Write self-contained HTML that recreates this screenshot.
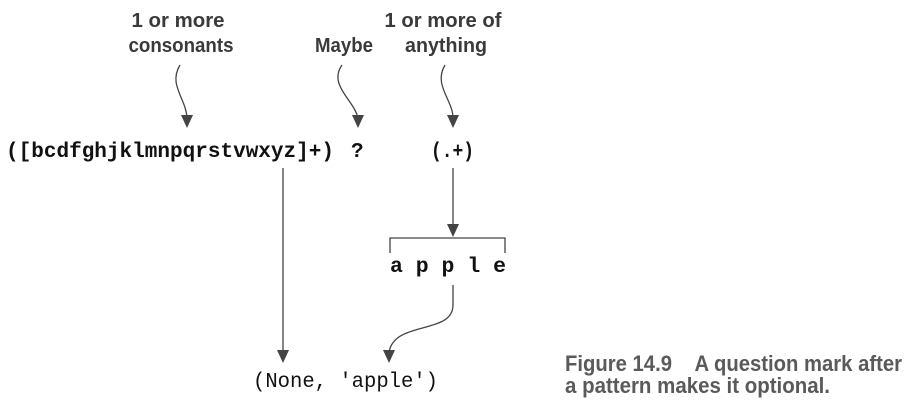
<!DOCTYPE html>
<html><head><meta charset="utf-8"><style>
html,body{margin:0;padding:0;background:#fff;}
body{width:917px;height:400px;position:relative;overflow:hidden;}
svg{position:absolute;left:0;top:0;}
.lbl{font-family:"Liberation Sans Narrow","Liberation Sans",sans-serif;font-weight:bold;font-size:20px;fill:#3a3a3a;}
.mono{font-family:"Liberation Mono",monospace;font-size:21px;fill:#111;}
.cap{font-family:"Liberation Sans Narrow","Liberation Sans",sans-serif;font-weight:bold;font-size:22px;fill:#5a5a5a;white-space:pre;}
</style></head><body>
<svg width="917" height="400" viewBox="0 0 917 400">
<text class="lbl" x="178" y="27" text-anchor="middle" textLength="93" lengthAdjust="spacingAndGlyphs">1 or more</text>
<text class="lbl" x="181" y="52" text-anchor="middle" textLength="105" lengthAdjust="spacingAndGlyphs">consonants</text>
<text class="lbl" x="344" y="52" text-anchor="middle" textLength="58" lengthAdjust="spacingAndGlyphs">Maybe</text>
<text class="lbl" x="443" y="27" text-anchor="middle" textLength="117" lengthAdjust="spacingAndGlyphs">1 or more of</text>
<text class="lbl" x="446" y="52" text-anchor="middle" textLength="82" lengthAdjust="spacingAndGlyphs">anything</text>
<g fill="none" stroke="#444" stroke-width="1.3">
<path d="M180,65 C168,85 186,98 187,118" />
<path d="M342,65 C328,85 354,100 358,118" />
<path d="M445,65 C433,85 453,100 453,118" />
</g>
<g fill="#444">
<path d="M181,115 L193,115 L187,128 Z"/>
<path d="M352,115 L364,115 L358,128 Z"/>
<path d="M447,115 L459,115 L453,128 Z"/>
</g>
<text class="mono" x="6" y="157" font-weight="bold" textLength="328" lengthAdjust="spacingAndGlyphs">([bcdfghjklmnpqrstvwxyz]+)</text>
<text class="mono" x="351" y="157" font-weight="bold">?</text>
<text class="mono" x="431" y="157" font-weight="bold" textLength="43" lengthAdjust="spacingAndGlyphs">(.+)</text>
<g stroke="#444" stroke-width="1.3" fill="none">
<line x1="283" y1="168" x2="283" y2="352"/>
<line x1="453" y1="168" x2="453" y2="226"/>
<path d="M390,253 L390,238 L505,238 L505,253"/>
<path d="M453,285 L453,305 C453,335 395,320 389,352"/>
</g>
<g fill="#444">
<path d="M277,350 L289,350 L283,363 Z"/>
<path d="M447,224 L459,224 L453,237 Z"/>
<path d="M383,350 L395,350 L389,363 Z"/>
</g>
<text class="mono" x="390" y="272" font-weight="bold" textLength="116" lengthAdjust="spacingAndGlyphs">a p p l e</text>
<text class="mono" x="253" y="387" textLength="185" lengthAdjust="spacingAndGlyphs">(None, 'apple')</text>
<text class="cap" x="565" y="371" textLength="337" lengthAdjust="spacingAndGlyphs">Figure 14.9&#160;&#160;&#160;&#160;A question mark after</text>
<text class="cap" x="565" y="393" textLength="265" lengthAdjust="spacingAndGlyphs">a pattern makes it optional.</text>
</svg>
</body></html>
